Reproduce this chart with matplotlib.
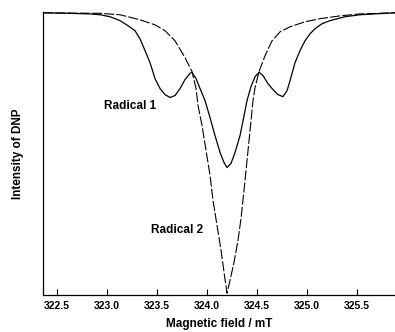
import matplotlib
matplotlib.use("Agg")
import matplotlib.pyplot as plt

# ── Data (field in mT, DNP intensity in arb. units) ──
field_r1 = [322.36, 322.63, 322.83, 322.93, 323.03, 323.13, 323.21, 323.28, 323.33,
            323.38, 323.43, 323.48, 323.53, 323.58, 323.63, 323.68, 323.73, 323.78,
            323.83, 323.85, 323.89, 323.93, 323.98, 324.03, 324.08, 324.13, 324.17,
            324.20, 324.24, 324.28, 324.33, 324.37, 324.40, 324.44, 324.48, 324.52,
            324.56, 324.61, 324.66, 324.71, 324.76, 324.80, 324.83, 324.88, 324.93,
            324.98, 325.03, 325.08, 325.15, 325.23, 325.38, 325.53, 325.68, 325.88]
dnp_r1 = [0.0, -0.2, -0.4, -0.7, -1.4, -2.8, -4.6, -6.4, -9.3,
          -13.5, -17.8, -23.5, -27.0, -29.2, -30.2, -29.5, -27.0, -23.8,
          -21.6, -21.2, -23.5, -27.0, -31.3, -37.4, -43.8, -49.8, -53.4,
          -55.2, -53.7, -49.8, -43.8, -36.7, -31.3, -26.3, -22.8, -21.2,
          -22.4, -25.3, -27.4, -29.2, -29.9, -27.8, -24.2, -17.8, -13.5,
          -10.0, -7.5, -5.7, -3.9, -2.8, -1.4, -0.7, -0.4, 0.0]

field_r2 = [322.36, 322.93, 323.13, 323.33, 323.48, 323.58, 323.68, 323.78, 323.85,
            323.89, 323.91, 323.95, 323.99, 324.03, 324.06, 324.10, 324.14, 324.17,
            324.20, 324.23, 324.27, 324.31, 324.34, 324.37, 324.39, 324.42, 324.44,
            324.46, 324.48, 324.52, 324.58, 324.65, 324.73, 324.83, 324.98, 325.13,
            325.33, 325.53, 325.88]
dnp_r2 = [0.0, -0.2, -0.7, -2.5, -4.3, -6.4, -10.0, -16.0, -21.0,
          -27.0, -33.1, -40.2, -49.1, -58.0, -66.9, -75.8, -84.7, -92.5,
          -100.0, -95.4, -89.0, -81.1, -73.3, -63.3, -56.2, -45.6, -38.4,
          -31.3, -26.7, -21.0, -15.3, -10.0, -6.8, -5.0, -3.2, -2.1,
          -1.1, -0.4, 0.0]

xticks = [322.5, 323.0, 323.5, 324.0, 324.5, 325.0, 325.5]
xtick_labels = ["322.5", "323.0", "323.5", "324.0", "324.5", "325.0", "325.5"]

plt.rcParams["font.family"] = ["Liberation Sans", "DejaVu Sans"]

fig = plt.figure(figsize=(3.95, 3.32), dpi=100)
ax = fig.add_axes([0.109, 0.111, 0.891, 0.853])

ax.plot(field_r1, dnp_r1, color="black", lw=0.9)
ax.plot(field_r2, dnp_r2, color="black", lw=0.8, linestyle=(0, (9, 2)))

ax.text(323.23, -33.1, "Radical 1", fontsize=8.5, fontweight="bold",
        ha="center", va="center")
ax.text(323.70, -77.6, "Radical 2", fontsize=8.5, fontweight="bold",
        ha="center", va="center")

ax.set_xlim(322.36, 325.88)
ax.set_ylim(-100.7, 0.3)
ax.set_xticks(xticks)
ax.set_xticklabels(xtick_labels, fontsize=7.5, fontweight="bold")
ax.set_yticks([])
ax.tick_params(axis="x", direction="in", length=4, width=0.8, pad=4)
ax.set_xlabel("Magnetic field / mT", fontsize=8.5, fontweight="bold", labelpad=5)
ax.set_ylabel("Intensity of DNP", fontsize=8.5, fontweight="bold", labelpad=14)

for side in ["top", "right"]:
    ax.spines[side].set_visible(False)
for side in ["left", "bottom"]:
    ax.spines[side].set_linewidth(0.9)

fig.savefig("out.png", dpi=100)
